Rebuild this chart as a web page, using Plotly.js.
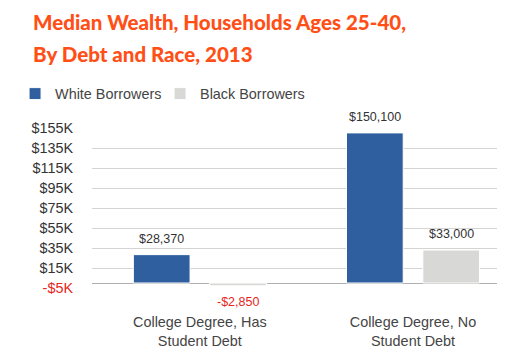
<!DOCTYPE html>
<html>
<head>
<meta charset="utf-8">
<script src="https://cdn.plot.ly/plotly-3.0.1.min.js"></script>
<style>html,body{margin:0;padding:0;background:#fff;}#chart{width:520px;height:354px;}</style>
</head>
<body>
<div id="chart"></div>
<script>
const categories = ["College Degree, Has<br>Student Debt", "College Degree, No<br>Student Debt"];
const seriesNames = ["White Borrowers", "Black Borrowers"];
const whiteValues = [28370, 150100];
const blackValues = [-2850, 33000];
const whiteLabels = ["$28,370", "$150,100"];
const blackLabels = ["-$2,850", "$33,000"];
const tickValues = [-5000, 15000, 35000, 55000, 75000, 95000, 115000, 135000, 155000];
const tickLabels = ["-$5K", "$15K", "$35K", "$55K", "$75K", "$95K", "$115K", "$135K", "$155K"];

const barW = 0.266;
const offW = -0.312, offB = 0.046;
const xIdx = categories.map((c, i) => i);
const font = "Liberation Sans, Arial, Helvetica, sans-serif";

const traces = [
  {type: 'bar', name: seriesNames[0], x: xIdx, y: whiteValues, width: barW, offset: offW,
   marker: {color: '#2f5f9f', line: {color: '#ffffff', width: 1}}, hoverinfo: 'none'},
  {type: 'bar', name: seriesNames[1], x: xIdx, y: blackValues, width: barW, offset: offB,
   marker: {color: '#d8d8d6', line: {color: '#ffffff', width: 1}}, hoverinfo: 'none'}
];

const annotations = [];
function addLabels(vals, labels, off) {
  vals.forEach((v, i) => {
    annotations.push({x: i + off + barW / 2, y: v, xref: 'x', yref: 'y', text: labels[i],
      showarrow: false, xanchor: 'center', yanchor: 'middle', yshift: v >= 0 ? 16 : -16,
      font: {family: font, size: 12.5, color: v >= 0 ? '#333333' : '#e8261c'}});
  });
}
addLabels(whiteValues, whiteLabels, offW);
addLabels(blackValues, blackLabels, offB);

const titleFont = {family: 'Lato, sans-serif', size: 20.5, color: '#ff4f17', weight: 900};
annotations.push({xref: 'paper', yref: 'paper', x: -0.1506, y: 1.66, xanchor: 'left', yanchor: 'middle',
  showarrow: false, text: 'Median Wealth, Households Ages 25-40,', font: titleFont});
annotations.push({xref: 'paper', yref: 'paper', x: -0.1506, y: 1.46, xanchor: 'left', yanchor: 'middle',
  showarrow: false, text: 'By Debt and Race, 2013', font: titleFont});

const layout = {
  width: 520, height: 354,
  margin: {l: 92, r: 23, t: 128, b: 66, pad: 0},
  paper_bgcolor: '#ffffff', plot_bgcolor: '#ffffff',
  showlegend: true,
  legend: {orientation: 'h', x: -0.19, xanchor: 'left', y: 1.214, yanchor: 'middle',
    font: {family: font, size: 14.4, color: '#444444'}, traceorder: 'normal',
    itemwidth: 30, entrywidth: 100},
  barmode: 'overlay',
  xaxis: {type: 'linear', range: [-0.506, 1.394], tickmode: 'array', tickvals: xIdx, ticktext: categories,
    showgrid: false, zeroline: false, showline: false, ticks: '',
    tickfont: {family: font, size: 14.4, color: '#444444'}, ticklabelstandoff: 24, fixedrange: true},
  yaxis: {range: [-5000, 155000], tickmode: 'array', tickvals: tickValues,
    ticktext: tickLabels.map(t => t.startsWith('-') ? '<span style="color:#e8261c">' + t + '</span>' : t),
    showgrid: true, gridcolor: '#d4d4d4', gridwidth: 1,
    zeroline: true, zerolinecolor: '#b0b0b0', zerolinewidth: 1,
    showline: false, ticks: '', ticklabelstandoff: 18,
    tickfont: {family: font, size: 14.4, color: '#333333'}, fixedrange: true},
  annotations: annotations
};

Plotly.newPlot('chart', traces, layout, {displayModeBar: false, staticPlot: true});
</script>
</body>
</html>
